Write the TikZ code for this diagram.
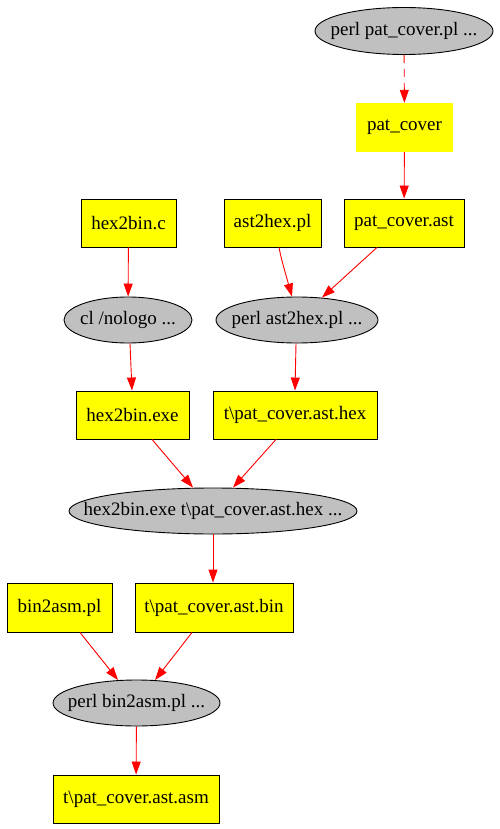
\documentclass[tikz,border=0pt]{standalone}
\usepackage{fontspec}
\setmainfont{Liberation Serif}
\usetikzlibrary{shapes.geometric,arrows.meta,calc}
\definecolor{gvyellow}{RGB}{255,255,0}
\definecolor{gvgray}{RGB}{192,192,192}
\definecolor{gvred}{RGB}{255,0,0}
\newcommand{\nowidth}[1]{\makebox[0pt]{#1}}
\begin{document}
\begin{tikzpicture}[x=1pt,y=-1pt,
  every node/.style={font=\fontsize{19}{22}\selectfont, inner sep=0pt},
  filebox/.style={rectangle, draw=black, fill=gvyellow, line width=0.9pt},
  plainbox/.style={rectangle, fill=gvyellow},
  cmd/.style={ellipse, draw=black, fill=gvgray, line width=0.9pt},
  link/.style={draw=gvred, line width=0.9pt, -{Triangle[length=13pt,width=9pt]}},
  dashlink/.style={link, dash pattern=on 8pt off 6pt}]
\useasboundingbox (0,0) rectangle (500,829);
% nodes
\node[cmd, minimum width=178pt, minimum height=47pt] (p1) at (404,31) {\nowidth{perl pat\_cover.pl ...}};
\node[plainbox, minimum width=97pt, minimum height=49pt] (patcover) at (404.5,127.5) {pat\_cover};
\node[filebox, minimum width=120pt, minimum height=48pt] (patast) at (404,223) {pat\_cover.ast};
\node[filebox, minimum width=95pt, minimum height=48pt] (hexc) at (128.5,223) {hex2bin.c};
\node[filebox, minimum width=97pt, minimum height=48pt] (asthex) at (272.5,223) {ast2hex.pl};
\node[cmd, minimum width=128pt, minimum height=46pt] (cl) at (128,320) {\nowidth{cl /nologo ...}};
\node[cmd, minimum width=162pt, minimum height=46pt] (pah) at (297,320) {\nowidth{perl ast2hex.pl ...}};
\node[filebox, minimum width=113pt, minimum height=48pt] (hexexe) at (132.5,415) {hex2bin.exe};
\node[filebox, minimum width=164pt, minimum height=48pt] (thex) at (295,415) {t\textbackslash pat\_cover.ast.hex};
\node[cmd, minimum width=288pt, minimum height=46pt] (big) at (213,511) {\nowidth{hex2bin.exe t\textbackslash pat\_cover.ast.hex ...}};
\node[filebox, minimum width=105pt, minimum height=49pt] (b2a) at (59.5,607.5) {bin2asm.pl};
\node[filebox, minimum width=158pt, minimum height=49pt] (tbin) at (214,607.5) {t\textbackslash pat\_cover.ast.bin};
\node[cmd, minimum width=167pt, minimum height=46pt] (pb2a) at (136.5,703) {\nowidth{perl bin2asm.pl ...}};
\node[filebox, minimum width=166pt, minimum height=48pt] (tasm) at (136,799) {t\textbackslash pat\_cover.ast.asm};
% edges
\draw[dashlink] (p1) -- (patcover);
\draw[link] (patcover) -- (patast);
\draw[link] (hexc) -- (cl);
\draw[link] ($(asthex.south)+(6.5,0)$) .. controls ($(asthex.south)+(9,12)$) .. ($(pah.north)+(-5,0)$);
\draw[link] ($(patast.south)+(-27,0)$) -- ($(pah.north)+(25,1)$);
\draw[link] ($(cl.south)+(2,0)$) -- ($(hexexe.north)+(-0.5,0)$);
\draw[link] ($(pah.south)+(-1,0)$) -- ($(thex.north)+(0,0)$);
\draw[link] ($(hexexe.south)+(19.5,0)$) -- ($(big.north)+(-20,0)$);
\draw[link] ($(thex.south)+(-19,0)$) -- ($(big.north)+(20,0)$);
\draw[link] ($(big.south)+(0,0)$) -- ($(tbin.north)+(-1,0)$);
\draw[link] ($(b2a.south)+(20.5,0)$) -- ($(pb2a.north)+(-18.5,0.5)$);
\draw[link] ($(tbin.south)+(-22,0)$) -- ($(pb2a.north)+(18.5,0.5)$);
\draw[link] (pb2a) -- (tasm);
\end{tikzpicture}
\end{document}
